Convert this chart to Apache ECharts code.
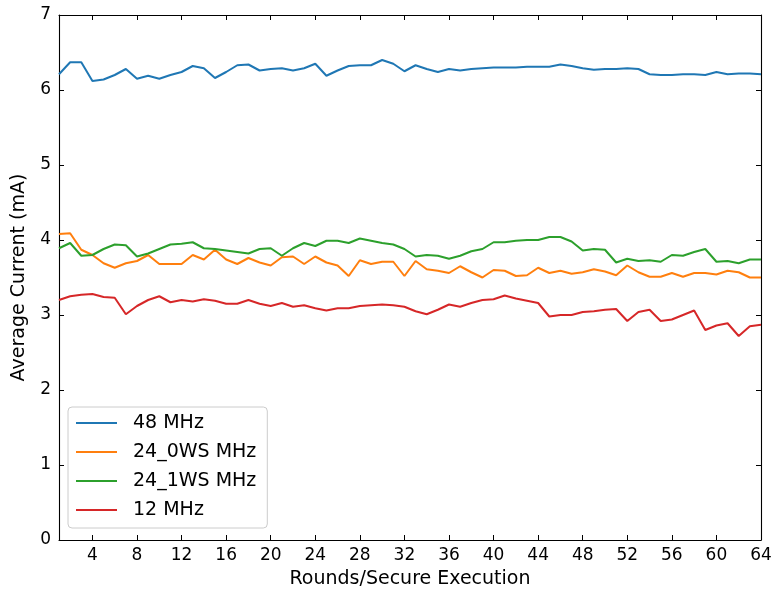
<!DOCTYPE html>
<html>
<head>
<meta charset="utf-8">
<script src="https://cdn.jsdelivr.net/npm/echarts@6/dist/echarts.min.js"></script>
<style>
  html, body { margin: 0; padding: 0; background: #fff; }
  #chart { width: 776px; height: 596px; }
</style>
</head>
<body>
<div id="chart"></div>
<script>
// Average current per round of secure execution, one series per clock setting
const rounds = Array.from({ length: 64 }, (_, i) => i + 1);
const xTicks = [4, 8, 12, 16, 20, 24, 28, 32, 36, 40, 44, 48, 52, 56, 60, 64];
const seriesNames = ['48 MHz', '24_0WS MHz', '24_1WS MHz', '12 MHz'];

const mhz48 = [
  6.21, 6.37, 6.37, 6.12, 6.14, 6.20, 6.28, 6.15, 6.19, 6.15,
  6.20, 6.24, 6.32, 6.29, 6.16, 6.24, 6.33, 6.34, 6.26, 6.28,
  6.29, 6.26, 6.29, 6.35, 6.19, 6.26, 6.32, 6.33, 6.33, 6.40,
  6.35, 6.25, 6.33, 6.28, 6.24, 6.28, 6.26, 6.28, 6.29, 6.30,
  6.30, 6.30, 6.31, 6.31, 6.31, 6.34, 6.32, 6.29, 6.27, 6.28,
  6.28, 6.29, 6.28, 6.21, 6.20, 6.20, 6.21, 6.21, 6.20, 6.24,
  6.21, 6.22, 6.22, 6.21
];
const mhz24ws0 = [
  4.08, 4.09, 3.87, 3.80, 3.69, 3.63, 3.69, 3.72, 3.80, 3.68,
  3.68, 3.68, 3.80, 3.74, 3.87, 3.74, 3.68, 3.76, 3.70, 3.66,
  3.77, 3.78, 3.68, 3.78, 3.70, 3.66, 3.52, 3.73, 3.68, 3.71,
  3.71, 3.52, 3.72, 3.61, 3.59, 3.56, 3.65, 3.57, 3.50, 3.60,
  3.59, 3.52, 3.53, 3.63, 3.56, 3.59, 3.55, 3.57, 3.61, 3.58,
  3.53, 3.66, 3.57, 3.51, 3.51, 3.56, 3.51, 3.56, 3.56, 3.54,
  3.59, 3.57, 3.50, 3.50
];
const mhz24ws1 = [
  3.89, 3.96, 3.79, 3.80, 3.88, 3.94, 3.93, 3.78, 3.82, 3.88,
  3.94, 3.95, 3.97, 3.89, 3.88, 3.86, 3.84, 3.82, 3.88, 3.89,
  3.79, 3.89, 3.96, 3.92, 3.99, 3.99, 3.96, 4.02, 3.99, 3.96,
  3.94, 3.88, 3.78, 3.80, 3.79, 3.75, 3.79, 3.85, 3.88, 3.97,
  3.97, 3.99, 4.00, 4.00, 4.04, 4.04, 3.98, 3.86, 3.88, 3.87,
  3.70, 3.75, 3.72, 3.73, 3.71, 3.80, 3.79, 3.84, 3.88, 3.71,
  3.72, 3.69, 3.74, 3.74
];
const mhz12 = [
  3.20, 3.25, 3.27, 3.28, 3.24, 3.23, 3.01, 3.12, 3.20, 3.25,
  3.17, 3.20, 3.18, 3.21, 3.19, 3.15, 3.15, 3.20, 3.15, 3.12,
  3.16, 3.11, 3.13, 3.09, 3.06, 3.09, 3.09, 3.12, 3.13, 3.14,
  3.13, 3.11, 3.05, 3.01, 3.07, 3.14, 3.11, 3.16, 3.20, 3.21,
  3.26, 3.22, 3.19, 3.16, 2.98, 3.00, 3.00, 3.04, 3.05, 3.07,
  3.08, 2.92, 3.04, 3.07, 2.92, 2.94, 3.00, 3.06, 2.80, 2.86,
  2.89, 2.72, 2.85, 2.87
];

const seriesValues = [mhz48, mhz24ws0, mhz24ws1, mhz12];
const colors = ['#1f77b4', '#ff7f0e', '#2ca02c', '#d62728'];
const FONT = 'DejaVu Sans';

const chart = echarts.init(document.getElementById('chart'), null, { renderer: 'canvas' });

const tickStyle = { inside: true, length: 5, lineStyle: { color: '#000', width: 1 } };
const lineStyle = { show: true, onZero: false, lineStyle: { color: '#000', width: 1.1 } };

chart.setOption({
  animation: false,
  backgroundColor: '#fff',
  color: colors,
  grid: { left: 59, right: 15, top: 15, bottom: 56, containLabel: false },
  legend: {
    orient: 'vertical',
    left: 68,
    top: 407,
    data: seriesNames,
    icon: 'rect',
    itemWidth: 41,
    itemHeight: 2,
    itemGap: 9,
    padding: [6, 11, 8, 8],
    backgroundColor: 'rgba(255,255,255,0.8)',
    borderColor: '#cccccc',
    borderWidth: 1,
    borderRadius: 4,
    textStyle: {
      fontFamily: FONT,
      fontSize: 19,
      color: '#000',
      lineHeight: 20,
      padding: [0, 0, 0, 11]
    }
  },
  xAxis: [
    {
      type: 'value',
      min: 1,
      max: 64,
      position: 'bottom',
      name: 'Rounds/Secure Execution',
      nameLocation: 'middle',
      nameGap: 30,
      nameTextStyle: { fontFamily: FONT, fontSize: 19, color: '#000' },
      axisLine: lineStyle,
      axisTick: Object.assign({ customValues: xTicks }, tickStyle),
      axisLabel: {
        customValues: xTicks,
        fontFamily: FONT, fontSize: 17, color: '#000', margin: 7
      },
      splitLine: { show: false }
    },
    {
      type: 'value',
      min: 1,
      max: 64,
      position: 'top',
      axisLine: lineStyle,
      axisTick: Object.assign({ customValues: xTicks }, tickStyle),
      axisLabel: { show: false },
      splitLine: { show: false }
    }
  ],
  yAxis: [
    {
      type: 'value',
      min: 0,
      max: 7,
      interval: 1,
      position: 'left',
      name: 'Average Current (mA)',
      nameLocation: 'middle',
      nameGap: 30,
      nameTextStyle: { fontFamily: FONT, fontSize: 19, color: '#000' },
      axisLine: lineStyle,
      axisTick: tickStyle,
      axisLabel: { fontFamily: FONT, fontSize: 17, color: '#000', margin: 8 },
      splitLine: { show: false }
    },
    {
      type: 'value',
      min: 0,
      max: 7,
      interval: 1,
      position: 'right',
      axisLine: lineStyle,
      axisTick: tickStyle,
      axisLabel: { show: false },
      splitLine: { show: false }
    }
  ],
  series: seriesNames.map((name, k) => ({
    name: name,
    type: 'line',
    xAxisIndex: 0,
    yAxisIndex: 0,
    showSymbol: false,
    symbol: 'none',
    lineStyle: { width: 2, color: colors[k] },
    itemStyle: { color: colors[k] },
    data: rounds.map((r, i) => [r, seriesValues[k][i]])
  }))
});
</script>
</body>
</html>
